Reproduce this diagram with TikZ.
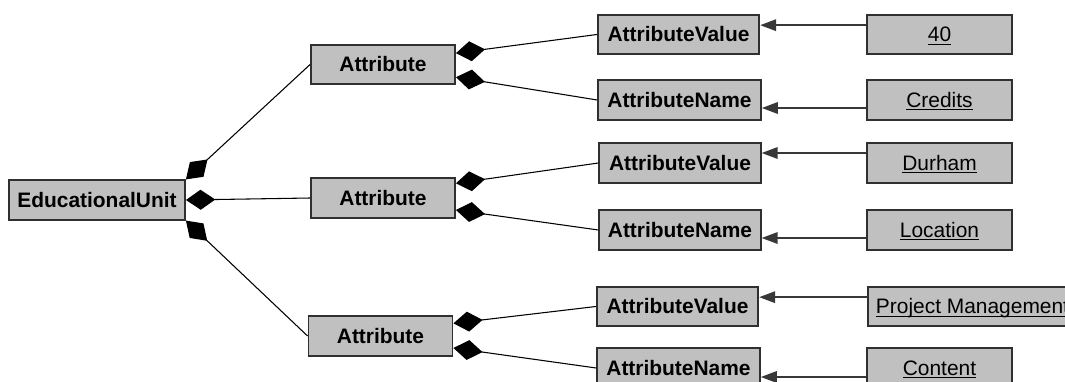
\documentclass[tikz,border=0pt]{standalone}
\usepackage{amsmath}
\usepackage{fontspec}
\setmainfont{Liberation Sans}
\usetikzlibrary{arrows.meta,calc}
\definecolor{boxfill}{HTML}{C0C0C0}
\definecolor{boxline}{HTML}{303030}
\definecolor{arrline}{HTML}{383838}
\newcommand{\ulval}[1]{\underline{\smash[b]{#1}}}
\begin{document}
\begin{tikzpicture}[x=0.75pt,y=-0.75pt,
  box/.style={draw=boxline,line width=1.4pt,fill=boxfill,inner xsep=0pt,inner ysep=0pt,
    text height=11.2pt,text depth=0.6pt,
    minimum height=29.5pt,font=\fontsize{15.7}{18}\selectfont\bfseries},
  valbox/.style={box,font=\fontsize{15.7}{18}\selectfont,minimum width=108.75pt},
  comp/.style={line width=0.8pt,{Diamond[length=22pt,width=15pt]}-},
  arr/.style={draw=arrline,line width=1.6pt,-{Triangle[length=12pt,width=8.5pt]}}]
\useasboundingbox (0,0) rectangle (1065,382);
\begin{scope}
\clip (0,0) rectangle (1065,382);
% class boxes
\node[box,minimum width=132pt] (eu) at (97,200) {EducationalUnit};
\node[box,minimum width=108pt] (a1) at (383,64.5) {Attribute};
\node[box,minimum width=108pt] (a2) at (383,198) {Attribute};
\node[box,minimum width=108pt] (a3) at (380.5,336) {Attribute};
\node[box,minimum width=121pt] (av1) at (678.5,34.5) {AttributeValue};
\node[box,minimum width=122pt] (an1) at (679.5,100) {AttributeName};
\node[box,minimum width=121pt] (av2) at (680,163) {AttributeValue};
\node[box,minimum width=121pt] (an2) at (680,230) {AttributeName};
\node[box,minimum width=121pt] (av3) at (677.5,306.5) {AttributeValue};
\node[box,minimum width=122pt] (an3) at (678.5,368) {AttributeName};
% value boxes
\node[valbox] (v1) at (939.5,34.5) {\ulval{40}};
\node[valbox] (v2) at (939.5,100) {\ulval{Credits}};
\node[valbox] (v3) at (939.5,163) {\ulval{Durham}};
\node[valbox] (v4) at (939.5,230) {\ulval{Location}};
\node[valbox,anchor=west,inner xsep=6pt] (v5) at (867,306.5) {\ulval{Project Management}};
\node[valbox] (v6) at (939.5,368) {\ulval{Content}};
% composition links
\draw[comp] (eu.north east) -- (a1.west);
\draw[comp] (eu.east) -- (a2.west);
\draw[comp] (eu.south east) -- (a3.west);
\draw[comp] ([yshift=8.5pt]a1.east) -- (av1.west);
\draw[comp] ([yshift=-9.5pt]a1.east) -- (an1.west);
\draw[comp] ([yshift=11pt]a2.east) -- (av2.west);
\draw[comp] ([yshift=-9pt]a2.east) -- (an2.west);
\draw[comp] ([yshift=9.5pt]a3.east) -- (av3.west);
\draw[comp] ([yshift=-9pt]a3.east) -- (an3.west);
% value arrows
\draw[arr] ([yshift=7pt]v1.west) -- ([yshift=7pt]v1.west -| av1.east);
\draw[arr] ([yshift=-6pt]v2.west) -- ([yshift=-6pt]v2.west -| an1.east);
\draw[arr] ([yshift=7.5pt]v3.west) -- ([yshift=7.5pt]v3.west -| av2.east);
\draw[arr] ([yshift=-6pt]v4.west) -- ([yshift=-6pt]v4.west -| an2.east);
\draw[arr] ([yshift=7pt]v5.west) -- ([yshift=7pt]v5.west -| av3.east);
\draw[arr] ([yshift=-6.75pt]v6.west) -- ([yshift=-6.75pt]v6.west -| an3.east);
\end{scope}
\end{tikzpicture}
\end{document}
